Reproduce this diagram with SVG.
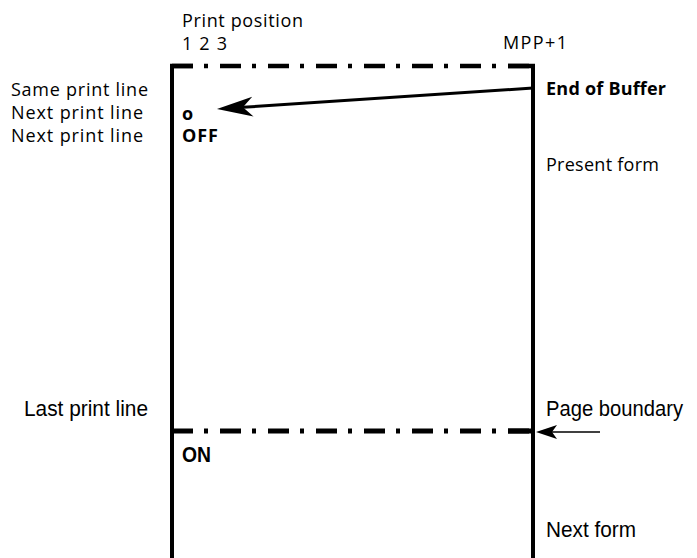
<svg xmlns="http://www.w3.org/2000/svg" width="697" height="558" viewBox="0 0 697 558">
<style>
.t{font-family:"Open Sans","DejaVu Sans",sans-serif;font-size:18px;fill:#000}
.b{font-family:"Open Sans","DejaVu Sans",sans-serif;font-size:18px;font-weight:bold;fill:#000}
.n{font-family:"Liberation Sans",Arial,sans-serif;font-size:22px;fill:#000}
.edge{stroke:#000;stroke-width:4;fill:none}
.dd{stroke:#000;fill:none;stroke-dasharray:21 11 4 12}
</style>
<defs>
<marker id="bigHead" markerUnits="userSpaceOnUse" markerWidth="40" markerHeight="24" viewBox="0 -12 40 24" refX="10" refY="0" orient="auto">
<path d="M0,-10 L36,0 L0,10 L10,0 Z" fill="#000"/>
</marker>
<marker id="smallHead" markerUnits="userSpaceOnUse" markerWidth="24" markerHeight="16" viewBox="0 -8 24 16" refX="5" refY="0" orient="auto">
<path d="M0,-7 L21,0 L0,7 L5,0 Z" fill="#000"/>
</marker>
</defs>
<rect width="697" height="558" fill="#fff"/>
<g id="form-frame">
<line class="edge" x1="172" y1="64" x2="172" y2="558"/>
<line class="edge" x1="533" y1="64" x2="533" y2="558"/>
<line class="dd" x1="172" y1="66" x2="533" y2="66" stroke-width="4.5"/>
<line stroke="#000" stroke-width="4.5" x1="170" y1="66" x2="193" y2="66"/>
<line stroke="#000" stroke-width="4.5" x1="508" y1="66" x2="535" y2="66"/>
</g>
<g id="page-boundary">
<line class="dd" x1="172" y1="431" x2="533" y2="431" stroke-width="5"/>
<line stroke="#000" stroke-width="5" x1="508" y1="431" x2="533" y2="431"/>
</g>
<g id="connectors">
<line x1="533" y1="88" x2="242.9" y2="107.3" stroke="#000" stroke-width="3" marker-end="url(#bigHead)"/>
<line x1="600" y1="432" x2="552" y2="432" stroke="#000" stroke-width="1.5" marker-end="url(#smallHead)"/>
</g>
<g id="top-labels">
<text class="t" x="182" y="27" textLength="121">Print position</text>
<text class="t" x="182" y="50" textLength="45">1 2 3</text>
<text class="t" x="503" y="49" textLength="64">MPP+1</text>
</g>
<g id="left-labels">
<text class="t" x="11" y="96" textLength="137">Same print line</text>
<text class="t" x="11" y="119" textLength="132">Next print line</text>
<text class="t" x="11" y="142" textLength="132">Next print line</text>
<text class="n" x="24" y="416" textLength="124" lengthAdjust="spacingAndGlyphs">Last print line</text>
</g>
<g id="inside-labels">
<text class="b" x="182" y="120">o</text>
<text class="b" x="182" y="142" textLength="36">OFF</text>
<text class="n" x="182" y="462" textLength="29" lengthAdjust="spacingAndGlyphs" font-weight="bold">ON</text>
</g>
<g id="right-labels">
<text class="b" x="546" y="95" textLength="120">End of Buffer</text>
<text class="t" x="546" y="171" textLength="113">Present form</text>
<text class="n" x="546" y="416" textLength="137" lengthAdjust="spacingAndGlyphs">Page boundary</text>
<text class="n" x="546" y="537" textLength="90" lengthAdjust="spacingAndGlyphs">Next form</text>
</g>
</svg>
